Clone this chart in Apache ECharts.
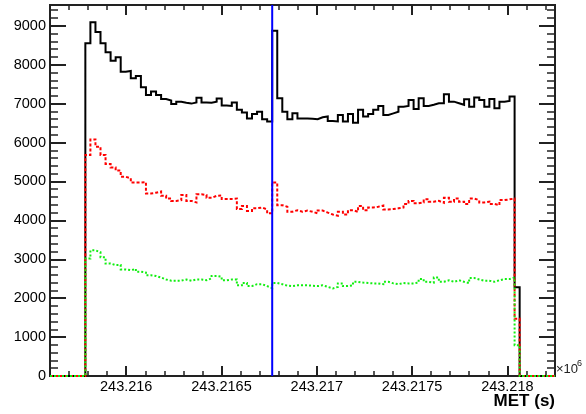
<!DOCTYPE html>
<html>
<head>
<meta charset="utf-8">
<script src="https://cdn.jsdelivr.net/npm/echarts@6/dist/echarts.min.js"></script>
<style>
html, body { margin: 0; padding: 0; background: #fff; }
#chart { width: 586px; height: 414px; }
</style>
</head>
<body>
<div id="chart"></div>
<script>
// histogram binning (100 bins over the axis range)
const xMin = 243215600
const xMax = 243218250
const binWidth = 26.5
const yMax = 9534

// time of the event (vertical blue line)
const eventTime = 243216766

// tick labels
const xTickValues = [243216000, 243216500, 243217000, 243217500, 243218000]
const yTickValues = [0, 1000, 2000, 3000, 4000, 5000, 6000, 7000, 8000, 9000]

// counts per bin
const totalCounts = [
    0, 0, 0, 0, 0, 0, 0,
    8550, 9090, 8840, 8550, 8320, 8100, 8190, 7820, 7840, 7650,
    7710, 7420, 7220, 7310, 7220, 7120, 7080, 6990, 7050, 7020,
    7000, 7030, 7150, 7030, 7020, 7050, 7130, 6950, 6940, 7030,
    6840, 6770, 6620, 6730, 6790, 6600, 6540,
    8870, 7140, 6790, 6600, 6750, 6620, 6620, 6610, 6600, 6650,
    6670, 6550, 6540, 6710, 6540, 6730, 6510, 6840, 6670, 6730,
    6840, 6940, 6710, 6750, 6790, 6920, 6940, 7090, 6860, 7140,
    6940, 6970, 7010, 7010, 7240, 7050, 7010, 6970, 7110, 6920,
    7160, 7090, 6920, 7120, 6880, 7050, 7070, 7180, 2280,
    0, 0, 0, 0, 0, 0, 0
]
const redCounts = [
    0, 0, 0, 0, 0, 0, 0,
    5680, 6080, 5890, 5680, 5450, 5360, 5280, 5120, 5080, 4970,
    4970, 4980, 4690, 4710, 4740, 4630, 4560, 4500, 4520, 4650,
    4500, 4460, 4670, 4650, 4580, 4630, 4640, 4550, 4550, 4560,
    4290, 4370, 4240, 4310, 4330, 4280, 4180,
    4970, 4390, 4350, 4220, 4260, 4220, 4250, 4220, 4180, 4250,
    4200, 4150, 4120, 4220, 4150, 4260, 4220, 4370, 4260, 4330,
    4350, 4380, 4280, 4290, 4310, 4330, 4420, 4500, 4440, 4460,
    4540, 4480, 4500, 4450, 4580, 4480, 4560, 4480, 4420, 4560,
    4520, 4460, 4480, 4420, 4390, 4520, 4540, 4560, 1470,
    0, 0, 0, 0, 0, 0, 0
]
const greenCounts = [
    0, 0, 0, 0, 0, 0, 0,
    3020, 3230, 3180, 3050, 2890, 2850, 2850, 2740, 2720, 2750,
    2680, 2660, 2590, 2570, 2530, 2480, 2450, 2450, 2450, 2480,
    2450, 2480, 2480, 2460, 2510, 2570, 2550, 2460, 2480, 2480,
    2330, 2390, 2310, 2360, 2360, 2310, 2260,
    2390, 2360, 2320, 2310, 2330, 2330, 2330, 2320, 2310, 2330,
    2290, 2250, 2290, 2380, 2310, 2330, 2420, 2400, 2390, 2380,
    2380, 2360, 2420, 2380, 2360, 2390, 2380, 2380, 2400, 2490,
    2420, 2400, 2530, 2420, 2460, 2420, 2460, 2420, 2390, 2520,
    2480, 2450, 2450, 2420, 2460, 2490, 2490, 2530, 790,
    0, 0, 0, 0, 0, 0, 0
]

const font = 'Liberation Sans, Arial, Helvetica, sans-serif'
const frameColor = '#222'

// minor tick positions
const xMinorTicks = []
for (let v = xMin; v <= xMax; v += 100) xMinorTicks.push(v)
const yMinorTicks = []
for (let v = 0; v <= yMax; v += 200) yMinorTicks.push(v)

// bin left edges + closing edge, drawn as steps
const toSteps = counts => {
    const pts = counts.map((c, i) => [xMin + i * binWidth, c])
    pts.push([xMin + counts.length * binWidth, 0])
    return pts
}

// onZero off, otherwise extra axes get pulled onto the zero line
const xAxisBase = {
    type: 'value', min: xMin, max: xMax,
    splitLine: { show: false },
    axisLabel: { show: false },
    axisLine: { show: false, onZero: false }
}
const yAxisBase = {
    type: 'value', min: 0, max: yMax,
    splitLine: { show: false },
    axisLabel: { show: false },
    axisLine: { show: false, onZero: false }
}
const tick = (values, length, width) => ({
    show: true, inside: true, length, customValues: values,
    lineStyle: { color: frameColor, width }
})

const option = {
    animation: false,
    grid: { left: 50, right: 31, top: 5, bottom: 38, show: true, borderColor: frameColor, borderWidth: 2 },
    xAxis: [
        {
            ...xAxisBase,
            position: 'bottom',
            axisTick: tick(xTickValues, 10, 2),
            axisLabel: {
                show: true, customValues: xTickValues, margin: 3,
                fontFamily: font, fontSize: 14.5, color: '#000',
                formatter: v => String(+(v / 1e6).toFixed(4))
            }
        },
        { ...xAxisBase, position: 'bottom', axisTick: tick(xMinorTicks, 5, 1.5) },
        { ...xAxisBase, position: 'top', axisTick: tick(xTickValues, 10, 2) },
        { ...xAxisBase, position: 'top', axisTick: tick(xMinorTicks, 5, 1.5) }
    ],
    yAxis: [
        {
            ...yAxisBase,
            position: 'left',
            axisTick: tick(yTickValues, 16, 2),
            axisLabel: {
                show: true, customValues: yTickValues, margin: 4,
                fontFamily: font, fontSize: 14.5, color: '#000',
                formatter: v => String(v)
            }
        },
        { ...yAxisBase, position: 'left', axisTick: tick(yMinorTicks, 8, 1.5) },
        { ...yAxisBase, position: 'right', axisTick: tick(yTickValues, 16, 2) },
        { ...yAxisBase, position: 'right', axisTick: tick(yMinorTicks, 8, 1.5) }
    ],
    series: [
        {
            name: 'all', type: 'line', step: 'end', symbol: 'none', z: 2,
            lineStyle: { color: '#000', width: 2, join: 'miter' },
            data: toSteps(totalCounts)
        },
        {
            name: 'red', type: 'line', step: 'end', symbol: 'none', z: 3,
            lineStyle: { color: '#ff0000', width: 2, type: [3, 2], join: 'miter' },
            data: toSteps(redCounts)
        },
        {
            name: 'green', type: 'line', step: 'end', symbol: 'none', z: 4,
            lineStyle: { color: '#11ee11', width: 2, type: [2, 2], join: 'miter' },
            data: toSteps(greenCounts)
        },
        {
            name: 'event', type: 'line', symbol: 'none', z: 5,
            lineStyle: { color: '#0000ff', width: 2 },
            data: [[eventTime, 0], [eventTime, yMax]]
        }
    ],
    graphic: [
        {
            type: 'text', right: 31, top: 393,
            style: { text: 'MET (s)', font: 'bold 17px ' + font, fill: '#000' }
        },
        {
            type: 'text', left: 556, top: 363,
            style: { text: '×10', font: '13px ' + font, fill: '#222' }
        },
        {
            type: 'text', left: 577, top: 359,
            style: { text: '6', font: '9px ' + font, fill: '#222' }
        }
    ]
}

const chart = echarts.init(document.getElementById('chart'), null, { renderer: 'canvas' })
chart.setOption(option)
</script>
</body>
</html>
